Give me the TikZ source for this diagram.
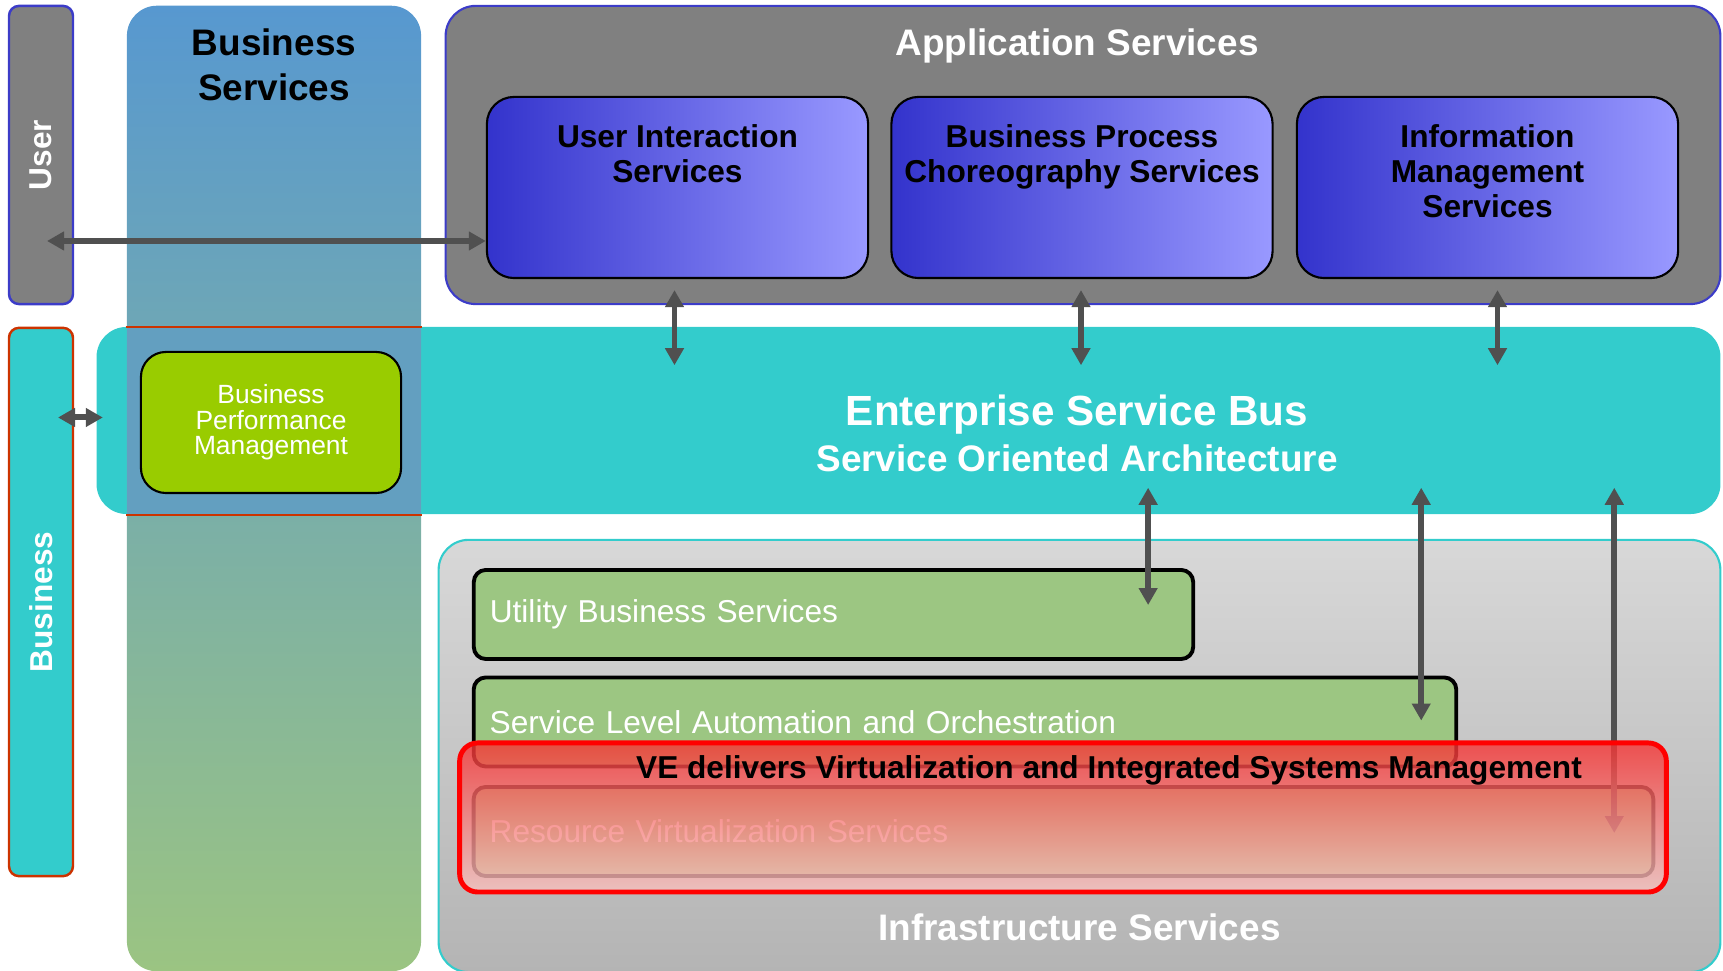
\documentclass[tikz,border=0pt]{standalone}
\usepackage{fontspec}
\setmainfont{Liberation Sans}
\usetikzlibrary{arrows.meta}
\usetikzlibrary{positioning}
\usetikzlibrary{calc}
\usepackage{xcolor}
\definecolor{boxgray}{RGB}{128,128,128}
\definecolor{rimblue}{RGB}{60,60,200}
\definecolor{rimred}{RGB}{204,51,0}
\definecolor{esbteal}{RGB}{51,204,204}
\definecolor{colblue}{RGB}{87,152,208}
\definecolor{colgreen}{RGB}{155,196,130}
\definecolor{bandblue}{RGB}{99,159,192}
\definecolor{appdark}{RGB}{51,51,204}
\definecolor{applight}{RGB}{153,153,255}
\definecolor{bpmgreen}{RGB}{153,204,0}
\definecolor{infratop}{RGB}{216,216,216}
\definecolor{infrabot}{RGB}{180,180,180}
\definecolor{utilgreen}{RGB}{156,198,130}
\definecolor{arrowgray}{RGB}{80,80,80}
\definecolor{vetop}{RGB}{246,50,50}
\definecolor{vebot}{RGB}{247,195,192}

\begin{document}
\begin{tikzpicture}[x=0.01cm, y=-0.01cm,
  panel/.style={rounded corners=0.3cm, inner sep=0pt},
  sidebar/.style={line width=0.7pt, rounded corners=0.1cm, rotate=90, minimum height=0.64cm, text=white, font=\bfseries\fontsize{9}{10}\selectfont},
  appbox/.style={draw=black, line width=0.6pt, left color=appdark, right color=applight, rounded corners=0.27cm, minimum width=3.81cm, minimum height=1.81cm},
  greenbox/.style={draw=black, line width=1.1pt, fill=utilgreen, rounded corners=0.12cm, minimum height=0.89cm, inner xsep=0.16cm, align=left, text=white, font=\fontsize{9}{10}\selectfont},
  bigtitle/.style={font=\bfseries\fontsize{10.5}{12.8}\selectfont, align=center, inner sep=0pt},
  boxtitle/.style={font=\bfseries\fontsize{9}{10}\selectfont, align=center, inner sep=0pt},
  biarrow/.style={draw=arrowgray, line width=1.7pt, {Triangle[width=0.18cm,length=0.17cm]}-{Triangle[width=0.18cm,length=0.17cm]}}
]
  \useasboundingbox (0,0) rectangle (1723,971);

  \node[sidebar, draw=rimblue, fill=boxgray, minimum width=2.98cm] (user) at (41,155) {User};
  \node[sidebar, draw=rimred, fill=esbteal, minimum width=5.48cm] (bizbar) at (41,602) {Business};

  \node[panel, fill=esbteal, minimum width=16.23cm, minimum height=1.87cm] (esb) at (908.5,420.5) {};
  \node[panel, top color=colblue, bottom color=colgreen, minimum width=2.94cm, minimum height=9.65cm] (bizcol) at (274,488.5) {};
  \node[fill=bandblue, inner sep=0pt, minimum width=2.94cm, minimum height=1.86cm] (band) at (274,421) {};
  \draw[rimred, line width=0.7pt] (band.north west) -- (band.north east) (band.south west) -- (band.south east);
  \node[draw=black, line width=0.6pt, fill=bpmgreen, rounded corners=0.25cm, minimum width=2.6cm, minimum height=1.41cm, text=white, align=center, font=\fontsize{7.5}{7.2}\selectfont] (bpm) at (271,422.5) {Business\\Performance\\Management};
  \node[bigtitle, below=0.23cm of bizcol.north] (biztitle) {Business\\Services};

  \node[panel, draw=rimblue, line width=0.6pt, fill=boxgray, minimum width=12.74cm, minimum height=2.98cm] (apps) at (1083,155) {};
  \node[bigtitle, text=white, below=0.23cm of apps.north, xshift=-0.06cm] (apptitle) {Application Services};
  \node[appbox] (uis) at (677.5,187.5) {};
  \node[appbox] (bpcs) at (1082,187.5) {};
  \node[appbox] (ims) at (1487.5,187.5) {};
  \node[boxtitle, below=0.28cm of uis.north] (uistitle) {User Interaction\\Services};
  \node[boxtitle, below=0.28cm of bpcs.north] (bpcstitle) {Business Process\\Choreography Services};
  \node[boxtitle, below=0.28cm of ims.north] (imstitle) {Information\\Management\\Services};

  \node[panel, draw=esbteal, line width=0.6pt, top color=infratop, bottom color=infrabot, minimum width=12.81cm, minimum height=4.32cm] (infra) at (1079.5,756) {};
  \node[greenbox, text width=6.87cm] (ubs) at (833.5,614.5) {Utility Business Services};
  \node[greenbox, text width=9.50cm] (slao) at (965,722) {Service Level Automation and Orchestration};
  \node[greenbox, text width=11.47cm] (rvs) at (1063.5,831.5) {Resource Virtualization Services};

  \draw[biarrow] ($(user.center)+(6,86)$) -- ($(uis.west |- user.center)+(0,86)$);
  \draw[biarrow] ($(bizbar.center |- esb.west)+(17,-3)$) -- ($(esb.west)+(7,-3)$);
  \draw[biarrow] ($(uis.south)+(-3,11)$) -- ($(uis.south |- esb.north)+(-3,39)$);
  \draw[biarrow] ($(bpcs.south)+(-1,11)$) -- ($(bpcs.south |- esb.north)+(-1,39)$);
  \draw[biarrow] ($(ims.south)+(10,11)$) -- ($(ims.south |- esb.north)+(10,39)$);
  \draw[biarrow] ($(ubs.north east |- esb.south)+(-47,-27)$) -- ($(ubs.north east)+(-47,37)$);
  \draw[biarrow] ($(slao.north east |- esb.south)+(-37,-27)$) -- ($(slao.north east)+(-37,45)$);
  \draw[biarrow] ($(rvs.north east |- esb.south)+(-41,-27)$) -- ($(rvs.north east)+(-41,48)$);

  \node[draw=red, line width=1.4pt, rounded corners=0.18cm, top color=vetop, bottom color=vebot, fill opacity=0.8, minimum width=12.06cm, minimum height=1.49cm] (vebox) at (1063,817.5) {};
  \node[boxtitle, anchor=base] (vetext) at (1109,779) {VE delivers Virtualization and Integrated Systems Management};

  \node[font=\bfseries\fontsize{12}{14}\selectfont, text=white, inner sep=0pt, anchor=base] (esbtitle) at (1077,426) {Enterprise Service Bus};
  \node[bigtitle, text=white, anchor=base] (soatitle) at (1077,472) {Service Oriented Architecture};
  \node[bigtitle, text=white, above=0.32cm of infra.south] (infratitle) {Infrastructure Services};
\end{tikzpicture}
\end{document}
